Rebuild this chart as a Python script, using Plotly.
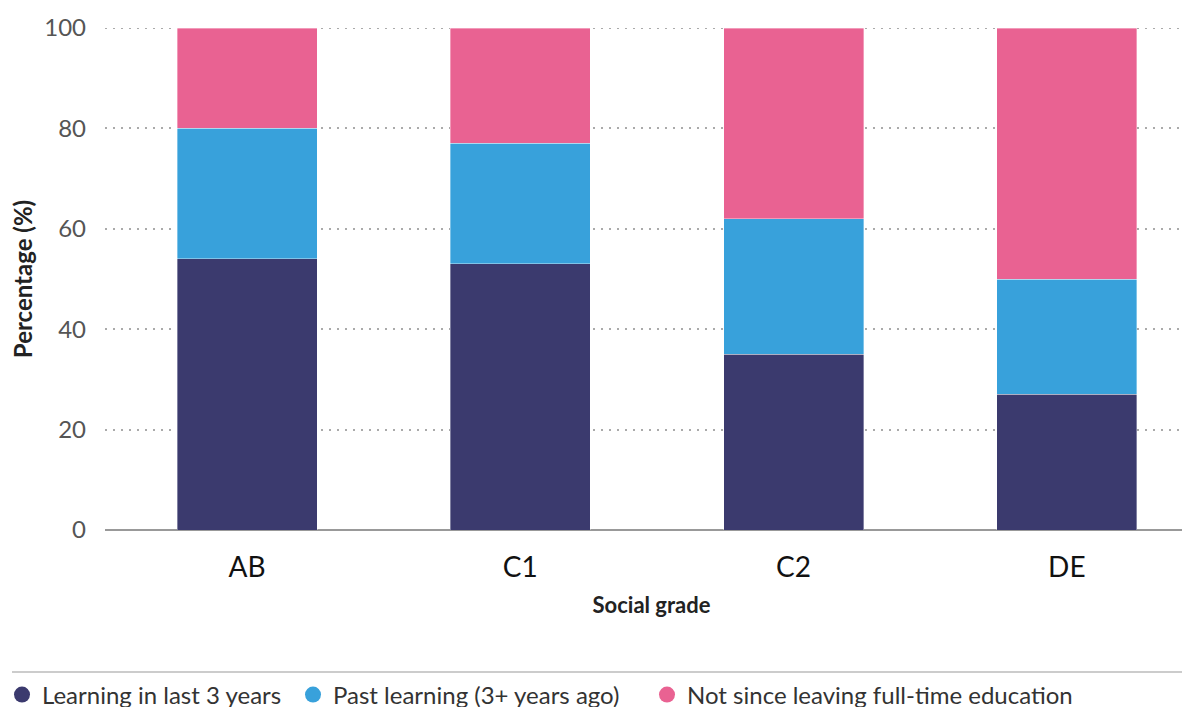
import plotly.graph_objects as go

categories = ["AB", "C1", "C2", "DE"]
learning_last_3 = [54, 53, 35, 27]
past_learning = [26, 24, 27, 23]
not_since = [20, 23, 38, 50]
series_names = ["Learning in last 3 years", "Past learning (3+ years ago)", "Not since leaving full-time education"]
colors = ["#3b3a6e", "#38a1db", "#e96292"]
y_ticks = [0, 20, 40, 60, 80, 100]

OFF = 8  # page body margin
W, H = 1190, 707
L, R, T, B = 105 - OFF, 0, 28 - OFF, 177 + OFF
pw = W - L - R
ph = H - T - B

def px_to_paper_x(px):
    return (px - OFF - L) / pw

def px_to_paper_y(py):
    return (H - B - (py - OFF)) / ph

legend_names = ["legend", "legend2", "legend3"]
legend_x = [2, 293, 647]

fig = go.Figure()
for name, vals, col in zip(series_names, [learning_last_3, past_learning, not_since], colors):
    fig.add_trace(go.Bar(x=categories, y=vals, name=name,
                         marker=dict(color=col, line=dict(width=0.6, color="rgba(255,255,255,0.6)")),
                         showlegend=False))
for name, col, lg in zip(series_names, colors, legend_names):
    fig.add_trace(go.Scatter(x=[None], y=[None], mode="markers", name=name, legend=lg,
                             marker=dict(symbol="circle", size=16, color=col)))

legend_layouts = {}
for lg, lx in zip(legend_names, legend_x):
    legend_layouts[lg] = dict(
        orientation="h",
        x=px_to_paper_x(lx),
        xanchor="left",
        y=px_to_paper_y(695),
        yanchor="middle",
        font=dict(size=24, color="#333"),
        itemsizing="trace",
        bgcolor="rgba(0,0,0,0)",
    )

fig.update_layout(
    width=W, height=H,
    margin=dict(l=L, r=R, t=T, b=B, autoexpand=False),
    barmode="stack",
    bargap=0.488,
    plot_bgcolor="white",
    paper_bgcolor="white",
    font=dict(family="Lato, sans-serif", color="#333"),
    xaxis=dict(
        range=[-0.52, 3.48],
        automargin=False,
        showgrid=False,
        tickfont=dict(size=28, color="#111"),
        ticklabelstandoff=18,
        title=dict(text="<b>Social grade</b>", font=dict(size=22, color="#222"), standoff=15),
        showline=False,
        zeroline=False,
    ),
    yaxis=dict(
        range=[0, 100],
        automargin=False,
        tickvals=y_ticks,
        tickfont=dict(size=24, color="#555"),
        ticklabelstandoff=18,
        showgrid=True,
        gridcolor="#aaaaaa",
        griddash="2px,6px",
        gridwidth=2,
        zeroline=True,
        zerolinecolor="#999",
        zerolinewidth=1.5,
        title=dict(text="<b>Percentage (%)</b>", font=dict(size=24, color="#222"), standoff=6),
    ),
    shapes=[
        dict(type="line", xref="paper", yref="paper",
             x0=px_to_paper_x(12), x1=1.0,
             y0=px_to_paper_y(672), y1=px_to_paper_y(672),
             line=dict(color="#cccccc", width=2)),
        dict(type="line", xref="paper", yref="y", layer="below",
             x0=0, x1=1, y0=y_ticks[-1], y1=y_ticks[-1],
             line=dict(color="#aaaaaa", width=2, dash="2px,6px")),
    ],
    **legend_layouts,
)

fig.write_html("out.html")
